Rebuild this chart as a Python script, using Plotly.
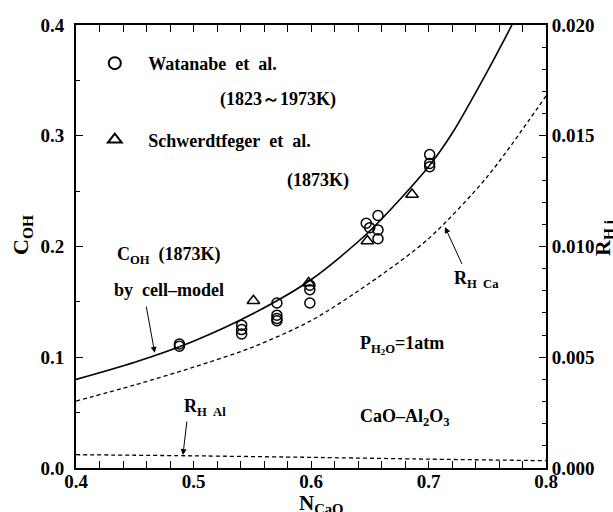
import plotly.graph_objects as go

# --- data ---
# Watanabe et al. (1823~1973K), circles
wat_n = [0.488, 0.488, 0.541, 0.541, 0.541, 0.571, 0.571, 0.571, 0.571, 0.599, 0.599, 0.599,
         0.647, 0.650, 0.657, 0.657, 0.657, 0.701, 0.701, 0.701]
wat_c = [0.110, 0.112, 0.129, 0.125, 0.121, 0.149, 0.138, 0.135, 0.133, 0.165, 0.161, 0.149,
         0.221, 0.217, 0.228, 0.215, 0.207, 0.283, 0.275, 0.272]
# Schwerdtfeger et al. (1873K), triangles
sch_n = [0.551, 0.598, 0.648, 0.686]
sch_c = [0.151, 0.167, 0.205, 0.247]
# C_OH by cell model (1873K), solid
model_n = [0.40, 0.45, 0.50, 0.55, 0.60, 0.65, 0.70, 0.72, 0.75, 0.771]
model_c = [0.080, 0.0955, 0.1145, 0.139, 0.170, 0.214, 0.272, 0.302, 0.358, 0.400]
# R_H Ca (right axis), dashed
rca_n = [0.40, 0.45, 0.50, 0.55, 0.60, 0.65, 0.70, 0.75, 0.80]
rca_r = [0.00302, 0.00375, 0.00455, 0.00545, 0.00665, 0.00835, 0.01035, 0.01315, 0.01680]
# R_H Al (right axis), dashed
ral_n = [0.40, 0.50, 0.60, 0.70, 0.80]
ral_r = [0.00060, 0.00055, 0.00048, 0.00040, 0.00033]

x_ticks = [0.4, 0.5, 0.6, 0.7, 0.8]
y_ticks = [0.0, 0.1, 0.2, 0.3, 0.4]
y2_ticks = [0.000, 0.005, 0.010, 0.015, 0.020]

FONT = "Liberation Serif, Times New Roman, DejaVu Serif, serif"
NB = "\u00a0"

fig = go.Figure()
fig.add_trace(go.Scatter(x=model_n, y=model_c, mode="lines",
                         line=dict(color="black", width=1.6, shape="spline", smoothing=0.8),
                         showlegend=False))
fig.add_trace(go.Scatter(x=rca_n, y=rca_r, mode="lines", yaxis="y2",
                         line=dict(color="black", width=1.3, dash="4px,3px", shape="spline", smoothing=0.8),
                         showlegend=False))
fig.add_trace(go.Scatter(x=ral_n, y=ral_r, mode="lines", yaxis="y2",
                         line=dict(color="black", width=1.3, dash="4px,3px", shape="spline", smoothing=0.6),
                         showlegend=False))
fig.add_trace(go.Scatter(x=wat_n, y=wat_c, mode="markers",
                         name=NB * 3 + "Watanabe" + NB + " et" + NB + " al.",
                         legendgroup="a",
                         marker=dict(symbol="circle-open", size=10, color="black", line=dict(width=1.5))))
fig.add_trace(go.Scatter(x=sch_n, y=sch_c, mode="markers",
                         name=NB * 3 + "Schwerdtfeger" + NB + " et" + NB + " al.",
                         legendgroup="b",
                         marker=dict(symbol="triangle-up-open", size=11, color="black", line=dict(width=1.5))))


def txt(x, y, s, size=18):
    fig.add_annotation(x=x, y=y, xref="x", yref="y", text=s, showarrow=False,
                       xanchor="left", yanchor="middle",
                       font=dict(family=FONT, size=size, color="black", weight="bold"))


txt(0.5209, 0.3323, "(1823～1973K)")
txt(0.5779, 0.2600, "(1873K)")
txt(0.4332, 0.1923, "C<sub>OH</sub>" + NB + " (1873K)")
txt(0.4306, 0.1607, "by" + NB + " cell–model")
txt(0.7200, 0.1698, "R<sub>H" + NB + NB + "Ca</sub>")
txt(0.6400, 0.1110, "P<sub>H<sub>2</sub>O</sub>=1atm")
txt(0.4902, 0.0542, "R<sub>H" + NB + NB + "Al</sub>")
txt(0.6400, 0.0460, "CaO–Al<sub>2</sub>O<sub>3</sub>")


def arrow(x, y, ax, ay):
    fig.add_annotation(x=x, y=y, ax=ax, ay=ay, xref="x", yref="y", axref="x", ayref="y",
                       text="", showarrow=True, arrowhead=2, arrowsize=1.2, arrowwidth=1,
                       arrowcolor="black")


arrow(0.467, 0.104, 0.4596, 0.147)
arrow(0.714, 0.2176, 0.729, 0.183)
arrow(0.491, 0.0117, 0.4945, 0.0433)

# axis titles
fig.add_annotation(x=-0.115, y=0.526, xref="paper", yref="paper", text="C<sub>OH</sub>",
                   textangle=-90, showarrow=False, xanchor="center", yanchor="middle",
                   font=dict(family=FONT, size=22, color="black", weight="bold"))
fig.add_annotation(x=1.122, y=0.52, xref="paper", yref="paper", text="R<sub>H" + NB + "i</sub>",
                   textangle=-90, showarrow=False, xanchor="center", yanchor="middle",
                   font=dict(family=FONT, size=22, color="black", weight="bold"))
fig.add_annotation(x=0.523, y=-0.082, xref="paper", yref="paper", text="N<sub>CaO</sub>",
                   showarrow=False, xanchor="center", yanchor="middle",
                   font=dict(family=FONT, size=21, color="black", weight="bold"))

tickfont = dict(family=FONT, size=19, color="black", weight="bold")
fig.update_layout(
    width=613, height=512,
    margin=dict(l=76, r=67, t=25, b=44),
    paper_bgcolor="white", plot_bgcolor="white",
    font=dict(family=FONT, color="black", weight="bold"),
    showlegend=True,
    legend=dict(x=0.04, y=0.955, xanchor="left", yanchor="top", bgcolor="rgba(0,0,0,0)",
                font=dict(family=FONT, size=18, color="black", weight="bold"),
                tracegroupgap=50, itemsizing="constant"),
    xaxis=dict(range=[0.4, 0.8], tickvals=x_ticks, ticktext=[f"{v:.1f}" for v in x_ticks],
               ticks="inside", ticklen=7, tickwidth=1.2, tickcolor="black",
               showline=True, linecolor="black", linewidth=2, mirror="allticks",
               showgrid=False, zeroline=False, tickfont=tickfont, ticklabelstandoff=-5,
               minor=dict(dtick=0.02, ticks="inside", ticklen=4, tickcolor="black", showgrid=False)),
    yaxis=dict(range=[0, 0.4], tickvals=y_ticks, ticktext=[f"{v:.1f}" for v in y_ticks],
               ticks="inside", ticklen=7, tickwidth=1.2, tickcolor="black",
               showline=True, linecolor="black", linewidth=2,
               showgrid=False, zeroline=False, tickfont=tickfont, ticklabelstandoff=6,
               minor=dict(dtick=0.05, ticks="inside", ticklen=4, tickcolor="black", showgrid=False)),
    yaxis2=dict(range=[0, 0.02], tickvals=y2_ticks, ticktext=[f"{v:.3f}" for v in y2_ticks],
                overlaying="y", side="right",
                ticks="inside", ticklen=7, tickwidth=1.2, tickcolor="black",
                showline=True, linecolor="black", linewidth=2,
                showgrid=False, zeroline=False, tickfont=tickfont,
                minor=dict(dtick=0.001, ticks="inside", ticklen=4, tickcolor="black", showgrid=False)),
)

fig.write_html("out.html")
